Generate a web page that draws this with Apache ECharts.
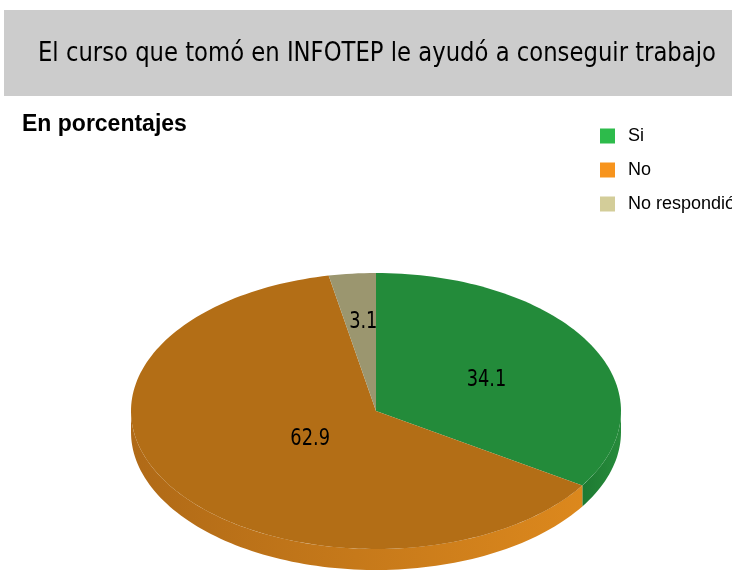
<!DOCTYPE html>
<html>
<head>
<meta charset="utf-8">
<script src="https://cdn.jsdelivr.net/npm/echarts@6/dist/echarts.min.js"></script>
<style>
  html, body { margin: 0; padding: 0; background: #fff; }
  #chart { width: 732px; height: 574px; }
</style>
</head>
<body>
<div id="chart"></div>
<script>
  var categories = ['Si', 'No', 'No respondió']
  var values = [34.1, 62.9, 3.1]
  var titleText = 'El curso que tomó en INFOTEP le ayudó a conseguir trabajo'

  var legendColors = ['#2dbb4b', '#f7941d', '#d3cd99']
  var topColors = ['#238b3a', '#b36e16', '#9b966f']
  var sideColors = [['#1d7a32', '#278b3b'], ['#b06a17', '#dc881d'], ['#8a8660', '#9b966f']]
  // label distance from centre, as a share of the radius
  var labelDist = [0.5, 0.34, 0.66]

  var narrow = '"DejaVu Sans Condensed", sans-serif'

  var cx = 376, cy = 411, rx = 245, ry = 138, depth = 21
  var total = values.reduce(function (a, b) { return a + b }, 0)

  function pt(deg, dy) {
    var r = deg * Math.PI / 180
    return [cx + rx * Math.sin(r), cy - ry * Math.cos(r) + (dy || 0)]
  }

  function arcPoints(a, b, dy) {
    var pts = []
    var n = Math.max(2, Math.ceil((b - a) / 1.5))
    for (var i = 0; i <= n; i++) pts.push(pt(a + (b - a) * i / n, dy))
    return pts
  }

  function renderSlice(params, api) {
    var idx = params.seriesIndex
    var before = 0
    for (var i = 0; i < idx; i++) before += values[i]
    var a = before / total * 360
    var b = (before + api.value(0)) / total * 360
    var children = []

    // front side of the disc
    var s0 = Math.max(a, 90), s1 = Math.min(b, 270)
    if (s1 > s0) {
      var up = arcPoints(s0, s1, 0)
      var down = arcPoints(s0, s1, depth).reverse()
      children.push({
        type: 'polygon',
        z2: 1,
        shape: { points: up.concat(down) },
        style: {
          fill: new echarts.graphic.LinearGradient(0, 0, 1, 0, [
            { offset: 0, color: sideColors[idx][0] },
            { offset: 1, color: sideColors[idx][1] }
          ])
        }
      })
    }

    // top face
    children.push({
      type: 'polygon',
      z2: 5,
      shape: { points: [[cx, cy]].concat(arcPoints(a, b, 0)) },
      style: { fill: topColors[idx] }
    })

    var mid = (a + b) / 2 * Math.PI / 180
    var d = labelDist[idx]
    children.push({
      type: 'text',
      z2: 10,
      x: cx + rx * d * Math.sin(mid) + 3,
      y: cy - ry * d * Math.cos(mid) + 2,
      scaleX: 0.86,
      style: {
        text: String(api.value(0)),
        fill: '#000',
        font: '23px ' + narrow,
        align: 'center',
        verticalAlign: 'middle'
      }
    })

    return { type: 'group', children: children }
  }

  var series = categories.map(function (name, i) {
    return {
      name: name,
      type: 'custom',
      coordinateSystem: 'none',
      itemStyle: { color: legendColors[i] },
      data: [values[i]],
      renderItem: renderSlice,
      animation: false
    }
  })

  var chart = echarts.init(document.getElementById('chart'))
  chart.setOption({
    animation: false,
    graphic: [{
      type: 'rect',
      z: -1,
      shape: { x: 4, y: 10, width: 740, height: 86 },
      style: { fill: '#cccccc' }
    }, {
      type: 'text',
      x: 38,
      y: 54,
      scaleX: 0.972,
      style: {
        text: titleText,
        font: '26px ' + narrow,
        fill: '#000',
        verticalAlign: 'middle'
      }
    }],
    title: {
      text: 'En porcentajes',
      left: 22,
      top: 113,
      padding: 0,
      textStyle: {
        fontFamily: '"Liberation Sans", Arial, sans-serif',
        fontSize: 23,
        fontWeight: 'bold',
        color: '#000'
      }
    },
    legend: {
      orient: 'vertical',
      left: 600,
      top: 127,
      padding: 0,
      itemWidth: 15,
      itemHeight: 15,
      itemGap: 16,
      icon: 'rect',
      textStyle: {
        fontFamily: '"Liberation Sans", Arial, sans-serif',
        fontSize: 18,
        color: '#000',
        padding: [0, 0, 0, 8]
      },
      data: categories
    },
    series: series
  })
</script>
</body>
</html>
